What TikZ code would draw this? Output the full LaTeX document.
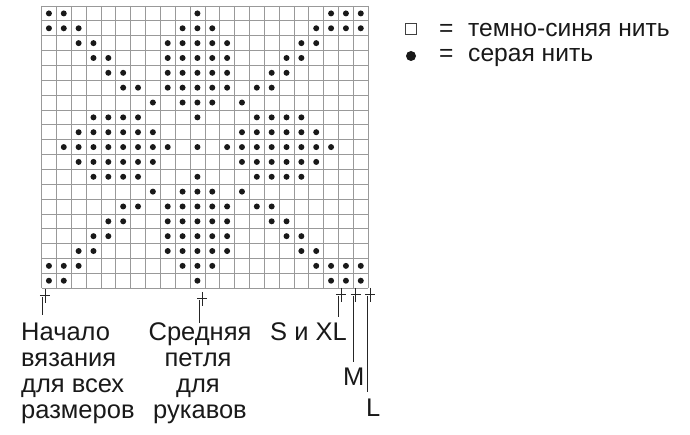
\documentclass[tikz,border=0pt]{standalone}
\usepackage{fontspec}
\setmainfont{Liberation Sans}
\begin{document}
\begin{tikzpicture}[x=1pt,y=-1pt,
  gridline/.style={draw=black!40, line width=0.7pt},
  stitch/.style={fill=black!90},
  marker/.style={draw=black!85, line width=1pt},
  lbl/.style={inner sep=0pt, anchor=base west, font=\fontsize{25.5}{27}\selectfont, text=black!90},
  clbl/.style={lbl, anchor=base},
  leg/.style={lbl, font=\fontsize{24.6}{26}\selectfont}]
\useasboundingbox (0,0) rectangle (690,435);
\def\xo{41.5}\def\yo{6}\def\cw{14.85}\def\ch{14.85}
% grid
\foreach \i in {0,...,22} \draw[gridline] ({\xo+\i*\cw},\yo) -- ({\xo+\i*\cw},{\yo+19*\ch});
\foreach \j in {0,...,19} \draw[gridline] (\xo,{\yo+\j*\ch}) -- ({\xo+22*\cw},{\yo+\j*\ch});
% stitches
\foreach \r/\cs in {
  1/{1,2,11,20,21,22},
  2/{1,2,3,10,11,12,19,20,21,22},
  3/{3,4,9,10,11,12,13,18,19},
  4/{4,5,9,10,11,12,13,17,18},
  5/{5,6,9,10,11,12,13,16,17},
  6/{6,7,9,10,11,12,13,15,16},
  7/{8,10,11,12,14},
  8/{4,5,6,7,11,15,16,17,18},
  9/{3,4,5,6,7,8,14,15,16,17,18,19},
  10/{2,3,4,5,6,7,8,9,11,13,14,15,16,17,18,19,20},
  11/{3,4,5,6,7,8,14,15,16,17,18,19},
  12/{4,5,6,7,11,15,16,17,18},
  13/{8,10,11,12,14},
  14/{6,7,9,10,11,12,13,15,16},
  15/{5,6,9,10,11,12,13,16,17},
  16/{4,5,9,10,11,12,13,17,18},
  17/{3,4,9,10,11,12,13,18,19},
  18/{1,2,3,10,11,12,19,20,21,22},
  19/{1,2,11,20,21,22}}{
  \foreach \c in \cs {
    \fill[stitch] ({\xo+(\c-0.5)*\cw},{\yo+(\r-0.5)*\ch}) circle (3);
  }
}
% markers
\foreach \k/\mx/\my/\me in {1/42.3/296/315, 2/199.7/299/323, 3/338.4/295/317, 4/353/295/362, 5/367.4/295/392}{
  \coordinate (mt\k) at (\mx,{\my+1});
  \coordinate (mb\k) at (\mx,\me);
  \draw[marker] (mt\k) -- (mb\k);
  \draw[marker] ({\mx-2.5},\my) -- ({\mx+7.5},\my) ({\mx+2.8},{\my-7}) -- ({\mx+2.8},{\my+7});
}
% labels
\node[lbl] (n1) at (21,340) {Начало};
\node[lbl] (n2) at (21,366) {вязания};
\node[lbl] (n3) at (21,392) {для всех};
\node[lbl] (n4) at (21,418) {размеров};
\node[clbl] (s1) at (200,340) {Средняя};
\node[clbl] (s2) at (198,366) {петля};
\node[clbl] (s3) at (198,392) {для};
\node[clbl] (s4) at (200,418) {рукавов};
\node[lbl] (sxl) at (270,340) {S и XL};
\node[lbl] (mm) at (343,385) {M};
\node[lbl] (ll) at (366,416) {L};
% legend
\node[draw=black!75, line width=0.9pt, minimum size=11.5pt, inner sep=0pt] (sq) at (411,29) {};
\node[circle, fill=black!90, minimum size=10pt, inner sep=0pt] (dt) at (411,56) {};
\node[leg] (eq1) at (439,37) {=};
\node[leg] (t1) at (468,37) {темно-синяя нить};
\node[leg] (eq2) at (439,62) {=};
\node[leg] (t2) at (468,62) {серая нить};
\end{tikzpicture}
\end{document}
